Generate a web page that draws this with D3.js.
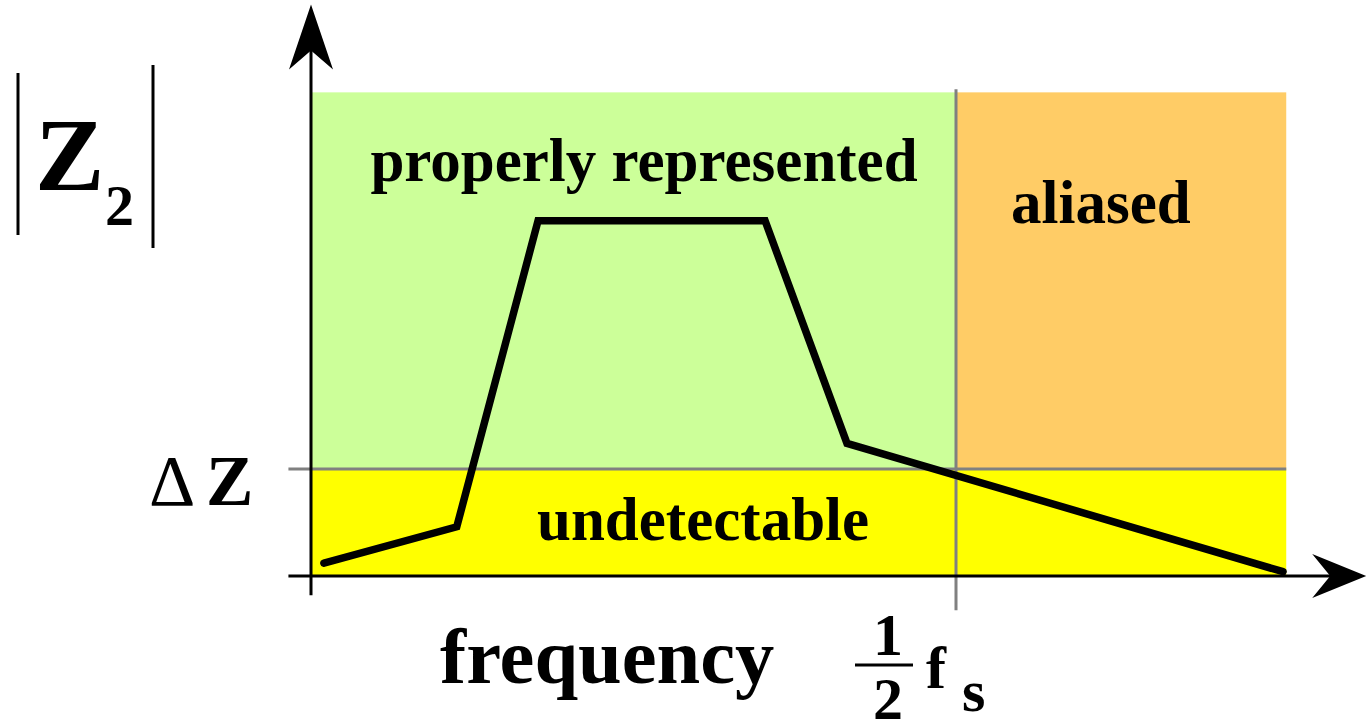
<!DOCTYPE html>
<html>
<head>
<meta charset="utf-8">
<script src="https://cdn.jsdelivr.net/npm/d3@7"></script>
<style>
  html, body { margin: 0; background: #fff; }
  svg { display: block; }
  text { font-family: "Liberation Serif", "Times New Roman", serif; fill: #000; }
</style>
</head>
<body>
<svg id="chart" width="1368" height="725"></svg>
<script>
// Frequency in units of the Nyquist frequency (fs/2), magnitude in units of ΔZ
const freq      = [0.02, 0.226, 0.352, 0.704, 0.831, 1.507];
const magnitude = [0.12, 0.46, 3.32, 3.32, 1.24, 0.04];

const nyquist   = 1;      // ½ fs
const threshold = 1;      // ΔZ, detection limit
const freqMax   = 1.512;  // right edge of the shaded bands
const magMax    = 4.52;   // top edge of the shaded bands

const regionNames  = ["properly represented", "aliased", "undetectable"];
const regionColors = ["#ccff99", "#ffcc66", "#ffff00"];

const svg = d3.select("#chart");

const x = d3.scaleLinear().domain([0, nyquist]).range([311, 956]);
const y = d3.scaleLinear().domain([0, threshold]).range([576, 469]);

// Shaded bands
const bands = [
  { name: regionNames[0], x0: 0,       x1: nyquist, y0: threshold, y1: magMax,    color: regionColors[0] },
  { name: regionNames[1], x0: nyquist, x1: freqMax, y0: threshold, y1: magMax,    color: regionColors[1] },
  { name: regionNames[2], x0: 0,       x1: freqMax, y0: 0,         y1: threshold, color: regionColors[2] }
];
svg.append("g").selectAll("rect").data(bands).join("rect")
  .attr("x", d => x(d.x0))
  .attr("y", d => y(d.y1))
  .attr("width", d => x(d.x1) - x(d.x0))
  .attr("height", d => y(d.y0) - y(d.y1))
  .attr("fill", d => d.color);

// Grey guide lines at ΔZ and ½ fs
const guides = svg.append("g").attr("stroke", "#808080").attr("stroke-width", 3);
guides.append("line")
  .attr("x1", x(-0.035)).attr("x2", x(freqMax))
  .attr("y1", y(threshold)).attr("y2", y(threshold));
guides.append("line")
  .attr("x1", x(nyquist)).attr("x2", x(nyquist))
  .attr("y1", y(magMax + 0.03)).attr("y2", y(-0.32));

// Axes with arrowheads
const axes = svg.append("g");
const xAxisEnd = 1.636, yAxisEnd = 5.34;
axes.append("line")
  .attr("x1", x(-0.035)).attr("x2", x(xAxisEnd) - 30)
  .attr("y1", y(0)).attr("y2", y(0))
  .attr("stroke", "#000").attr("stroke-width", 3);
axes.append("line")
  .attr("x1", x(0)).attr("x2", x(0))
  .attr("y1", y(-0.18)).attr("y2", y(yAxisEnd) + 30)
  .attr("stroke", "#000").attr("stroke-width", 3);

const tx = x(xAxisEnd), ty = y(0);
axes.append("path")
  .attr("d", `M${tx},${ty} L${tx - 54},${ty - 22} L${tx - 36},${ty} L${tx - 54},${ty + 22} Z`)
  .attr("fill", "#000");
const ux = x(0), uy = y(yAxisEnd);
axes.append("path")
  .attr("d", `M${ux},${uy} L${ux - 22},${uy + 65} L${ux},${uy + 46} L${ux + 22},${uy + 65} Z`)
  .attr("fill", "#000");

// Spectrum curve
const line = d3.line().x((d, i) => x(freq[i])).y(d => y(d));
svg.append("path")
  .datum(magnitude)
  .attr("d", line)
  .attr("fill", "none")
  .attr("stroke", "#000")
  .attr("stroke-width", 7.5)
  .attr("stroke-linejoin", "miter")
  .attr("stroke-linecap", "round");

// Region labels
const labels = svg.append("g").attr("font-weight", "bold").attr("font-size", 61);
labels.append("text").attr("x", 644).attr("y", 181).attr("text-anchor", "middle").text(regionNames[0]);
labels.append("text").attr("x", 1011).attr("y", 223).text(regionNames[1]);
labels.append("text").attr("x", 537).attr("y", 540).text(regionNames[2]);

// Axis title
svg.append("text").attr("x", 440).attr("y", 683)
  .attr("font-size", 78.5).attr("font-weight", "bold").text("frequency");

// |Z2|
const zt = svg.append("g");
zt.append("line").attr("x1", 18).attr("x2", 18).attr("y1", 73).attr("y2", 235)
  .attr("stroke", "#000").attr("stroke-width", 3);
zt.append("line").attr("x1", 153).attr("x2", 153).attr("y1", 65).attr("y2", 248)
  .attr("stroke", "#000").attr("stroke-width", 3);
zt.append("text").attr("x", 35).attr("y", 190)
  .attr("font-size", 104).attr("font-weight", "bold").text("Z");
zt.append("text").attr("x", 105).attr("y", 225)
  .attr("font-size", 58).attr("font-weight", "bold").text("2");

// ΔZ tick label
svg.append("text").attr("x", 149).attr("y", y(threshold) + 36)
  .attr("font-size", 72).text("Δ");
svg.append("text").attr("x", 206).attr("y", y(threshold) + 36)
  .attr("font-size", 71).attr("font-weight", "bold").text("Z");

// ½ fs tick label
const fs = svg.append("g").attr("font-size", 60).attr("font-weight", "bold");
fs.append("text").attr("x", 888).attr("y", 655).attr("text-anchor", "middle").text("1");
fs.append("line").attr("x1", 855).attr("x2", 913).attr("y1", 665).attr("y2", 665)
  .attr("stroke", "#000").attr("stroke-width", 3);
fs.append("text").attr("x", 888).attr("y", 719).attr("text-anchor", "middle").text("2");
fs.append("text").attr("x", 926).attr("y", 688).text("f");
fs.append("text").attr("x", 962).attr("y", 711).text("s");
</script>
</body>
</html>
